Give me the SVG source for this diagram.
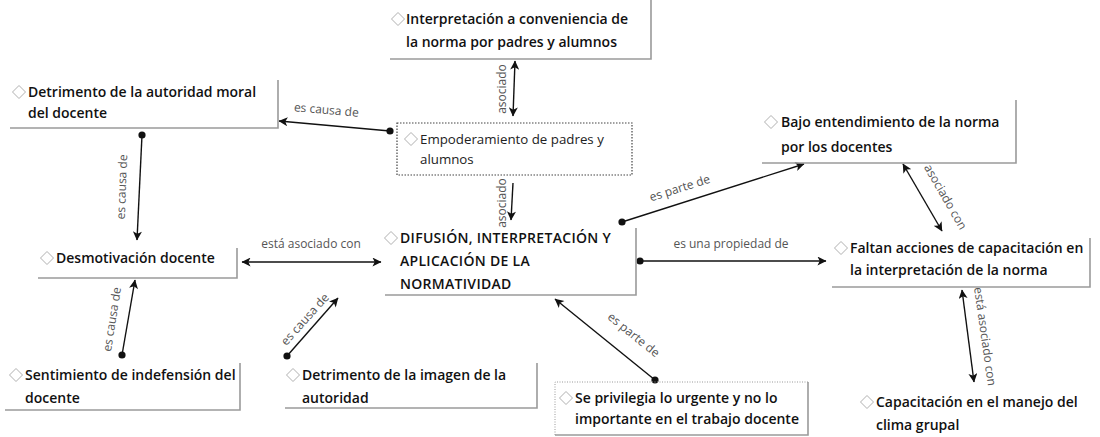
<svg xmlns="http://www.w3.org/2000/svg" width="1100" height="437" viewBox="0 0 1100 437">
<style>
.bg{fill:#fff}
.bd{stroke:#9a9a9a;stroke-width:1.6;fill:none}
.dia{fill:#fff;stroke:#b0b0b0;stroke-width:1}
.t{font-family:"Open Sans","Noto Sans",sans-serif;font-size:14px;font-weight:600;fill:#111}
.tr{font-family:"Open Sans","Noto Sans",sans-serif;font-size:13.3px;font-weight:400;fill:#222}
.tu{font-family:"Open Sans","Noto Sans",sans-serif;font-size:14px;font-weight:600;fill:#111;letter-spacing:0.3px}
.lb{font-family:"Open Sans","Noto Sans",sans-serif;font-size:12px;font-weight:400;fill:#555;text-anchor:middle}
.c{stroke:#111;stroke-width:1.4;fill:none}
</style>
<defs>
<marker id="arr" viewBox="0 0 10 10" refX="9.5" refY="5" markerWidth="10" markerHeight="9" markerUnits="userSpaceOnUse" orient="auto-start-reverse"><path d="M0,0 L10,5 L0,10 L2.5,5 z" fill="#111"/></marker>
<marker id="dot" viewBox="0 0 8 8" refX="4" refY="4" markerWidth="8" markerHeight="8" markerUnits="userSpaceOnUse"><circle cx="4" cy="4" r="3.6" fill="#111"/></marker>
<path id="dm" d="M0,-6.5 L6.5,0 L0,6.5 L-6.5,0 z"/>
</defs>
<rect class="bg" x="0" y="0" width="1100" height="437"/>

<g id="connectors">
  <line class="c" x1="390" y1="131" x2="279" y2="121" marker-start="url(#dot)" marker-end="url(#arr)"/>
  <text class="lb" transform="translate(326,114) rotate(5)">es causa de</text>

  <line class="c" x1="515" y1="61" x2="513" y2="116" marker-start="url(#arr)" marker-end="url(#arr)"/>
  <text class="lb" transform="translate(506,89) rotate(-90)">asociado</text>

  <line class="c" x1="513" y1="183" x2="511" y2="220" marker-end="url(#arr)"/>
  <text class="lb" transform="translate(506,203) rotate(-90)">asociado</text>

  <line class="c" x1="142" y1="135" x2="137" y2="240" marker-start="url(#dot)" marker-end="url(#arr)"/>
  <text class="lb" transform="translate(126,187) rotate(-88)">es causa de</text>

  <line class="c" x1="122" y1="355" x2="135" y2="280" marker-start="url(#dot)" marker-end="url(#arr)"/>
  <text class="lb" transform="translate(116,320) rotate(-81)">es causa de</text>

  <line class="c" x1="242" y1="262" x2="381" y2="262" marker-start="url(#arr)" marker-end="url(#arr)"/>
  <text class="lb" transform="translate(311,248)">está asociado con</text>

  <line class="c" x1="287" y1="356" x2="338" y2="298" marker-start="url(#dot)" marker-end="url(#arr)"/>
  <text class="lb" transform="translate(308,322) rotate(-48)">es causa de</text>

  <line class="c" x1="655" y1="380" x2="555" y2="299" marker-start="url(#dot)" marker-end="url(#arr)"/>
  <text class="lb" transform="translate(631,338) rotate(39)">es parte de</text>

  <line class="c" x1="622" y1="222" x2="804" y2="164" marker-start="url(#dot)" marker-end="url(#arr)"/>
  <text class="lb" transform="translate(681,192) rotate(-17.5)">es parte de</text>

  <line class="c" x1="640" y1="261" x2="826" y2="261" marker-start="url(#dot)" marker-end="url(#arr)"/>
  <text class="lb" transform="translate(731,248)">es una propiedad de</text>

  <line class="c" x1="903" y1="164" x2="942" y2="231" marker-start="url(#arr)" marker-end="url(#arr)"/>
  <text class="lb" transform="translate(942,199) rotate(60)">asociado con</text>

  <line class="c" x1="962" y1="290" x2="974" y2="382" marker-start="url(#arr)" marker-end="url(#arr)"/>
  <text class="lb" transform="translate(981,337) rotate(82)">está asociado con</text>
</g>

<g id="n-interpretacion">
  <path class="bd" d="M651,0 V59 H390"/>
  <use href="#dm" class="dia" x="398" y="19"/>
  <text class="t" x="406" y="24">Interpretación a conveniencia de</text>
  <text class="t" x="406" y="47">la norma por padres y alumnos</text>
</g>

<g id="n-detrimento-autoridad">
  <path class="bd" d="M278,80 V128 H10"/>
  <use href="#dm" class="dia" x="19" y="92"/>
  <text class="t" x="28" y="97">Detrimento de la autoridad moral</text>
  <text class="t" x="28" y="118">del docente</text>
</g>

<g id="n-empoderamiento">
  <rect x="397" y="123" width="235" height="52" fill="#fff" stroke="#444" stroke-width="1.2" stroke-dasharray="1.5 1.5"/>
  <use href="#dm" class="dia" x="411" y="139"/>
  <text class="tr" x="420" y="144">Empoderamiento de padres y</text>
  <text class="tr" x="420" y="164">alumnos</text>
</g>

<g id="n-desmotivacion">
  <path class="bd" d="M237,248 V278 H38"/>
  <use href="#dm" class="dia" x="47" y="258"/>
  <text class="t" x="56" y="263">Desmotivación docente</text>
</g>

<g id="n-sentimiento">
  <path class="bd" d="M240,363 V410 H5"/>
  <use href="#dm" class="dia" x="16" y="375"/>
  <text class="t" x="25" y="380">Sentimiento de indefensión del</text>
  <text class="t" x="25" y="403">docente</text>
</g>

<g id="n-difusion">
  <path class="bd" d="M636,228 V295 H385"/>
  <use href="#dm" class="dia" x="391" y="238"/>
  <text class="tu" x="400" y="243">DIFUSIÓN, INTERPRETACIÓN Y</text>
  <text class="tu" x="400" y="266">APLICACIÓN DE LA</text>
  <text class="tu" x="400" y="289">NORMATIVIDAD</text>
</g>

<g id="n-detrimento-imagen">
  <path class="bd" d="M537,363 V408 H285"/>
  <use href="#dm" class="dia" x="293" y="375"/>
  <text class="t" x="302" y="380">Detrimento de la imagen de la</text>
  <text class="t" x="302" y="403">autoridad</text>
</g>

<g id="n-se-privilegia">
  <path d="M555,435 V382 H808" fill="none" stroke="#999" stroke-width="1" stroke-dasharray="1 1.5"/>
  <path class="bd" d="M808,382 V435 H555"/>
  <use href="#dm" class="dia" x="566" y="398"/>
  <text class="t" x="575" y="403">Se privilegia lo urgente y no lo</text>
  <text class="t" x="575" y="424">importante en el trabajo docente</text>
</g>

<g id="n-bajo-entendimiento">
  <path class="bd" d="M1016,100 V163 H762"/>
  <use href="#dm" class="dia" x="771" y="122"/>
  <text class="t" x="781" y="127">Bajo entendimiento de la norma</text>
  <text class="t" x="781" y="152">por los docentes</text>
</g>

<g id="n-faltan">
  <path class="bd" d="M1090,238 V287 H832"/>
  <use href="#dm" class="dia" x="841" y="248"/>
  <text class="t" x="850" y="253">Faltan acciones de capacitación en</text>
  <text class="t" x="850" y="275">la interpretación de la norma</text>
</g>

<g id="n-capacitacion">
  <use href="#dm" class="dia" x="867" y="402"/>
  <text class="t" x="876" y="407">Capacitación en el manejo del</text>
  <text class="t" x="876" y="430">clima grupal</text>
</g>
</svg>
